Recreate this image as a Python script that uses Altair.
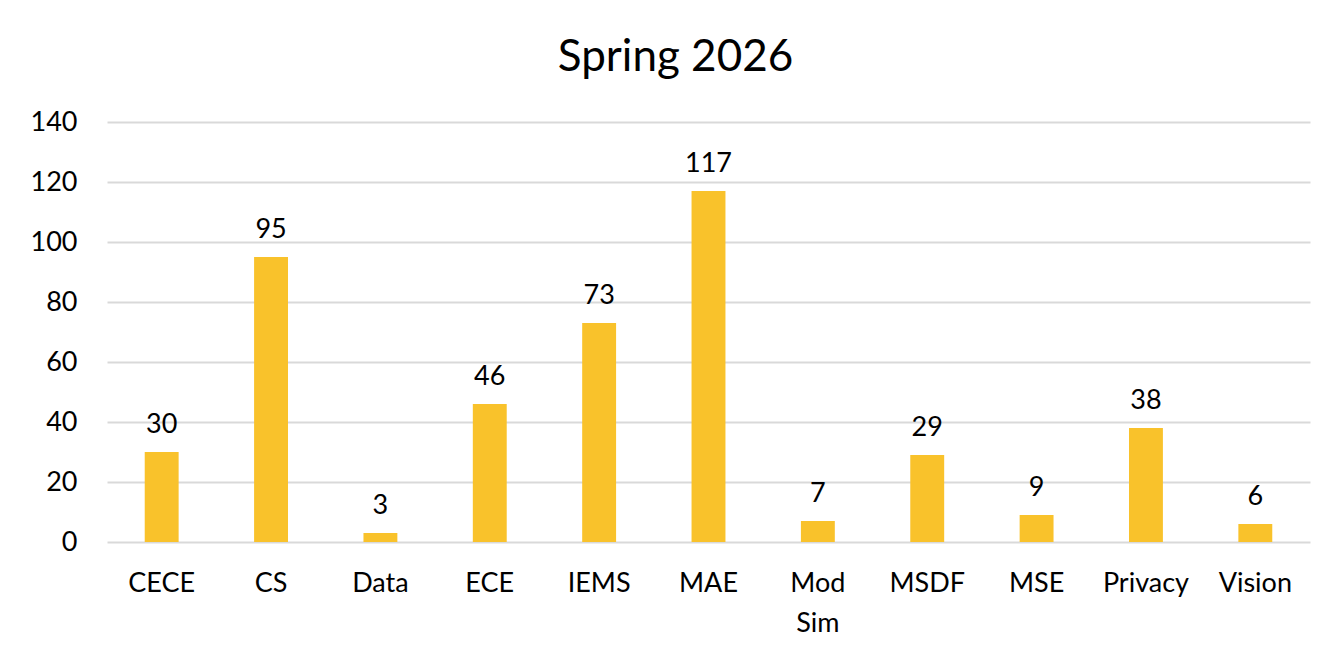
import altair as alt
import pandas as pd

programs = ["CECE", "CS", "Data", "ECE", "IEMS", "MAE", "Mod Sim", "MSDF", "MSE", "Privacy", "Vision"]
counts = [30, 95, 3, 46, 73, 117, 7, 29, 9, 38, 6]
y_ticks = [0, 20, 40, 60, 80, 100, 120, 140]

df = pd.DataFrame({"program": programs, "count": counts})

FONT = "Lato"
BAR = "#F9C22B"

x = alt.X(
    "program:N",
    sort=programs,
    title=None,
    scale=alt.Scale(paddingInner=0.69, paddingOuter=0.345),
    axis=alt.Axis(
        labelAngle=0,
        labelFont=FONT,
        labelFontSize=27,
        labelColor="#000000",
        labelPadding=28,
        labelLineHeight=40,
        labelExpr="split(datum.label, ' ')",
        domain=False,
        ticks=False,
        grid=False,
    ),
)
y = alt.Y(
    "count:Q",
    title=None,
    scale=alt.Scale(domain=[0, 140], nice=False),
    axis=alt.Axis(
        values=y_ticks,
        labelFont=FONT,
        labelFontSize=27,
        labelColor="#000000",
        labelPadding=30,
        domain=False,
        ticks=False,
        grid=True,
        gridColor="#D9D9D9",
        gridWidth=2,
    ),
)

bars = alt.Chart(df).mark_bar(color=BAR).encode(x=x, y=y)
labels = alt.Chart(df).mark_text(
    font=FONT, fontSize=27, color="#000000", baseline="alphabetic", dy=-19
).encode(x=alt.X("program:N", sort=programs), y="count:Q", text="count:Q")

chart = (
    alt.layer(bars, labels)
    .properties(
        width=1203,
        height=420,
        autosize=alt.AutoSizeParams(type="none"),
        padding={"left": 99, "top": 114, "right": 19, "bottom": 100},
        title=alt.TitleParams(
            "Spring 2026",
            font=FONT,
            fontSize=44,
            fontWeight="normal",
            color="#000000",
            anchor="middle",
            baseline="alphabetic",
            offset=-7,
            dx=-33,
        ),
    )
    .configure(background="#FFFFFF")
    .configure_view(strokeWidth=0, stroke="transparent")
)

chart.save("out.html", embed_options={"renderer": "svg", "actions": False})
